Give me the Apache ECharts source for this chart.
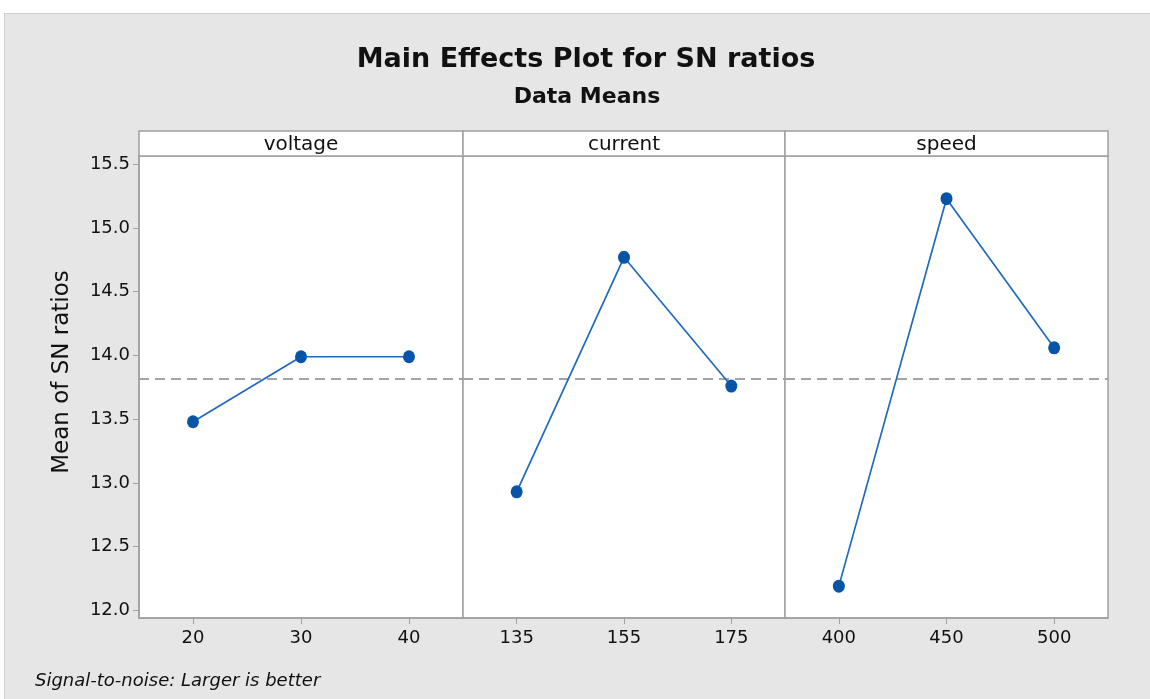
<!DOCTYPE html>
<html><head><meta charset="utf-8">
<script src="https://cdn.jsdelivr.net/npm/echarts@6/dist/echarts.min.js"></script>
<style>
html,body{margin:0;padding:0;background:#fff;}
#wrap{position:relative;width:1150px;height:699px;overflow:hidden;}
#bg{position:absolute;left:4px;top:13px;width:1146px;height:686px;background:#e6e6e6;border-left:1px solid #cfcfcf;border-top:1px solid #cfcfcf;box-sizing:border-box;}
#chart{position:absolute;left:0;top:0;width:1150px;height:699px;}
</style></head><body>
<div id="wrap"><div id="bg"></div><div id="chart"></div></div>
<script>
// ---- data ----
const titleText = 'Main Effects Plot for SN ratios';
const subtitleText = 'Data Means';
const yAxisName = 'Mean of SN ratios';
const footnote = 'Signal-to-noise: Larger is better';
const factors = ['voltage', 'current', 'speed'];
const voltageLevels = ['20', '30', '40'];
const currentLevels = ['135', '155', '175'];
const speedLevels = ['400', '450', '500'];
const voltageMeans = [13.48, 13.99, 13.99];
const currentMeans = [12.93, 14.77, 13.76];
const speedMeans = [12.19, 15.23, 14.06];
const overallMean = 13.82;
const yTicks = [12.0, 12.5, 13.0, 13.5, 14.0, 14.5, 15.0, 15.5];

const levels = [voltageLevels, currentLevels, speedLevels];
const means = [voltageMeans, currentMeans, speedMeans];

// ---- layout ----
const panelLefts = [139, 463, 785];
const panelRight = 1108;
const plotTop = 156, plotBottom = 618, headerTop = 131;
const FONT = '"DejaVu Sans", "Noto Sans", sans-serif';
const gridColor = '#a0a0a0';
const yMin = 11.94, yMax = 15.565;

const grids = [], xAxes = [], yAxes = [], series = [], graphics = [];
panelLefts.forEach((l, i) => {
  const r = i < 2 ? panelLefts[i + 1] : panelRight;
  grids.push({
    left: l, width: r - l, top: plotTop, height: plotBottom - plotTop,
    show: true, backgroundColor: '#fff', borderColor: gridColor, borderWidth: 1.5
  });
  xAxes.push({
    type: 'category', gridIndex: i, data: levels[i], boundaryGap: true,
    axisLine: { show: true, lineStyle: { color: gridColor, width: 1.5 } },
    axisTick: { show: true, alignWithLabel: true, length: 6, lineStyle: { color: gridColor } },
    axisLabel: { fontSize: 18, color: '#111', margin: 11, fontFamily: FONT },
    splitLine: { show: false }
  });
  yAxes.push({
    type: 'value', gridIndex: i, min: yMin, max: yMax,
    axisLine: { show: i === 0, lineStyle: { color: gridColor, width: 1.5 } },
    axisTick: { show: i === 0, length: 6, lineStyle: { color: gridColor }, customValues: yTicks },
    axisLabel: { show: i === 0, fontSize: 18, color: '#111', margin: 9, fontFamily: FONT,
      customValues: yTicks, formatter: v => Number(v).toFixed(1) },
    splitLine: { show: false }
  });
  series.push({
    type: 'line', xAxisIndex: i, yAxisIndex: i, data: means[i],
    symbol: 'circle', symbolSize: [12, 13],
    itemStyle: { color: '#0854a6' },
    lineStyle: { color: '#2169bb', width: 1.7 },
    z: 5,
    markLine: {
      silent: true, symbol: 'none', animation: false,
      label: { show: false },
      lineStyle: { color: '#a3a3a3', type: [10, 6], width: 2 },
      data: [{ yAxis: overallMean }]
    }
  });
  graphics.push({
    type: 'rect', shape: { x: l, y: headerTop, width: r - l, height: plotTop - headerTop },
    style: { fill: '#fff', stroke: gridColor, lineWidth: 1.5 }
  });
  graphics.push({
    type: 'text', x: (l + r) / 2, y: (headerTop + plotTop) / 2 + 1,
    style: { text: factors[i], fill: '#111', font: '20px ' + FONT, textAlign: 'center', textVerticalAlign: 'middle' }
  });
});

graphics.push(
  { type: 'text', x: 586, y: 60,
    style: { text: titleText, fill: '#111', font: 'bold 27px ' + FONT, textAlign: 'center', textVerticalAlign: 'middle' } },
  { type: 'text', x: 587, y: 97,
    style: { text: subtitleText, fill: '#111', font: 'bold 22px ' + FONT, textAlign: 'center', textVerticalAlign: 'middle' } },
  { type: 'text', x: 62, y: 372, rotation: Math.PI / 2,
    style: { text: yAxisName, fill: '#111', font: '23px ' + FONT, textAlign: 'center', textVerticalAlign: 'middle' } },
  { type: 'text', x: 35, y: 681,
    style: { text: footnote, fill: '#111', font: 'italic 18px ' + FONT, textAlign: 'left', textVerticalAlign: 'middle' } }
);

const chart = echarts.init(document.getElementById('chart'), null, { renderer: 'canvas' });
chart.setOption({
  backgroundColor: 'transparent',
  animation: false,
  grid: grids, xAxis: xAxes, yAxis: yAxes, series: series,
  graphic: graphics
});
</script>
</body></html>
